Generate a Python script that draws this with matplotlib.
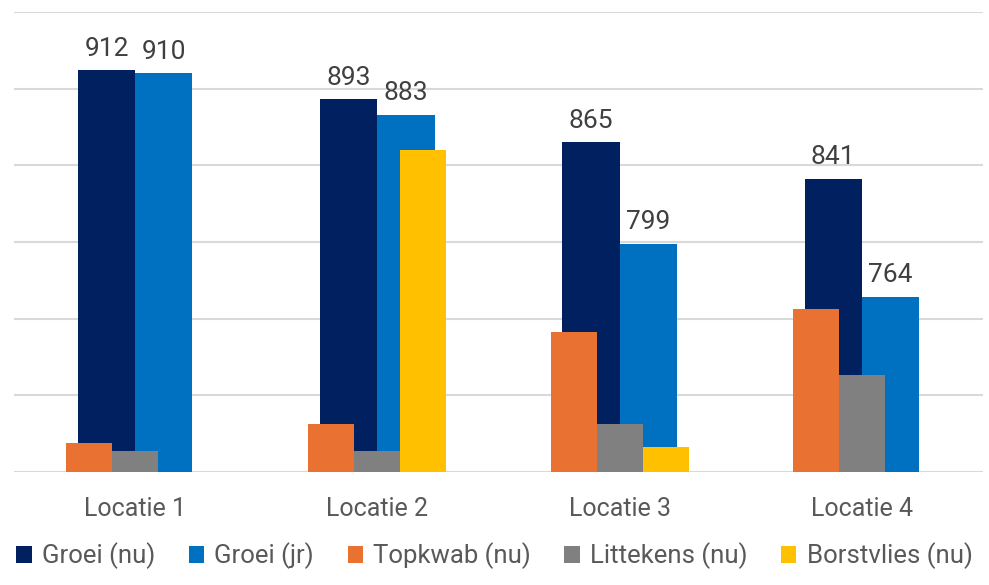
import matplotlib.pyplot as plt
import numpy as np

# data
locaties = ['Locatie 1', 'Locatie 2', 'Locatie 3', 'Locatie 4']
groei_nu = [912, 893, 865, 841]
groei_jr = [910, 883, 799, 764]
# secundaire as (geschat, geen labels)
topkwab = [1.9, 3.1, 9.1, 10.6]
littekens = [1.4, 1.4, 3.1, 6.3]
borstvlies = [0, 21.0, 1.6, 0]

plt.rcParams['font.family'] = ['Roboto', 'DejaVu Sans']

fig = plt.figure(figsize=(9.89, 5.85), dpi=100)
ax = fig.add_axes([14 / 989, 1 - 472 / 585, 969 / 989, 460 / 585])
ax2 = ax.twinx()

x = np.arange(len(locaties))
w1 = 0.236
w2 = 0.19

b1 = ax.bar(x - w1 / 2, groei_nu, w1, color='#002060', label='Groei (nu)', zorder=2)
b2 = ax.bar(x + w1 / 2, groei_jr, w1, color='#0070C0', label='Groei (jr)', zorder=2)
ax.bar_label(b1, padding=7, fontsize=19, color='#404040')
ax.bar_label(b2, padding=7, fontsize=19, color='#404040')

b3 = ax2.bar(x - w2, topkwab, w2, color='#E97132', label='Topkwab (nu)')
b4 = ax2.bar(x, littekens, w2, color='#808080', label='Littekens (nu)')
b5 = ax2.bar(x + w2, borstvlies, w2, color='#FFC000', label='Borstvlies (nu)')

ax.set_xlim(-0.5, 3.5)
ax.set_ylim(650, 950)
ax2.set_ylim(0, 30)
ax.set_yticks(np.arange(650, 951, 50))
ax.yaxis.grid(True, color='#D9D9D9', linewidth=1.5, zorder=0)
ax.set_axisbelow(True)
ax.tick_params(axis='y', left=False, labelleft=False)
ax2.tick_params(axis='y', right=False, labelright=False)
ax.set_xticks(x)
ax.set_xticklabels(locaties, fontsize=18, color='#595959')
ax.tick_params(axis='x', length=0, pad=18)
for a in (ax, ax2):
    for s in a.spines.values():
        s.set_visible(False)

handles = [b1, b2, b3, b4, b5]
fig.legend(handles, [h.get_label() for h in handles], loc='center',
           bbox_to_anchor=(0.5, 1 - 556 / 585), ncol=5, frameon=False,
           fontsize=18.5, labelcolor='#595959', handlelength=0.6, handleheight=0.6,
           handletextpad=0.4, columnspacing=1.3)

fig.savefig('out.png', dpi=100)
